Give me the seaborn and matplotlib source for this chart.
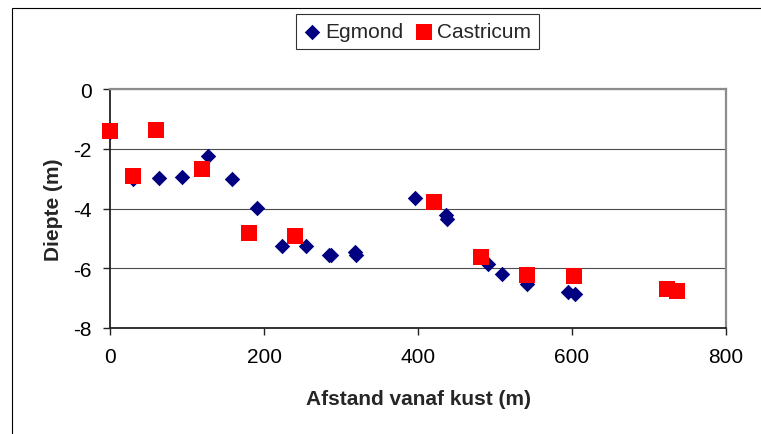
import matplotlib
matplotlib.use("Agg")
import matplotlib.pyplot as plt
from matplotlib.patches import Rectangle
import pandas as pd
import seaborn as sns

# Egmond measurements: distance from the coast (m) and depth (m)
egmond_afstand = [0, 30, 63, 94, 127, 159, 191, 223, 255, 284, 287, 318, 320,
                  396, 436, 438, 491, 509, 541, 595, 604]
egmond_diepte = [-1.45, -3.02, -2.98, -2.93, -2.23, -3.01, -3.98, -5.24, -5.24,
                 -5.55, -5.55, -5.45, -5.56, -3.65, -4.22, -4.36, -5.86, -6.2,
                 -6.53, -6.8, -6.86]

# Castricum measurements
castricum_afstand = [0, 30, 60, 120, 180, 240, 421, 482, 541, 602, 724, 737]
castricum_diepte = [-1.39, -2.9, -1.36, -2.68, -4.82, -4.91, -3.77, -5.61,
                    -6.23, -6.27, -6.69, -6.75]

x_ticks = [0, 200, 400, 600, 800]
y_ticks = [0, -2, -4, -6, -8]

egmond = pd.DataFrame({"afstand": egmond_afstand, "diepte": egmond_diepte})
castricum = pd.DataFrame({"afstand": castricum_afstand, "diepte": castricum_diepte})

sns.set_style("white")
plt.rcParams["font.family"] = ["Liberation Sans", "DejaVu Sans"]
plt.rcParams["axes.unicode_minus"] = False

fig = plt.figure(figsize=(7.61, 4.35), dpi=100)
ax = fig.add_axes([110 / 761, 1 - 329 / 435, 616 / 761, 239 / 435])

sns.scatterplot(data=egmond, x="afstand", y="diepte", marker="D", s=62,
                color="#000080", linewidth=0, label="Egmond", ax=ax,
                zorder=3, clip_on=False)
sns.scatterplot(data=castricum, x="afstand", y="diepte", marker="s", s=117,
                color="#FF0000", linewidth=0, label="Castricum", ax=ax,
                zorder=4, clip_on=False)

ax.set_xlim(0, 800)
ax.set_ylim(-8, 0)
ax.set_xticks(x_ticks)
ax.set_yticks(y_ticks)
ax.set_xticklabels([str(v) for v in x_ticks])
ax.set_yticklabels([str(v) for v in y_ticks])

ax.yaxis.grid(True, color="#4d4d4d", linewidth=0.8)
ax.xaxis.grid(False)
ax.set_axisbelow(True)

for side in ("left", "bottom"):
    ax.spines[side].set_color("#222222")
    ax.spines[side].set_linewidth(1.3)
for side in ("top", "right"):
    ax.spines[side].set_color("#8c8c8c")
    ax.spines[side].set_linewidth(1.6)

ax.tick_params(axis="both", which="major", direction="out", length=5,
               width=1, color="#222222", labelsize=15, labelcolor="black")
ax.tick_params(axis="x", pad=9, bottom=True)
ax.tick_params(axis="y", pad=8, left=True)

ax.set_xlabel("Afstand vanaf kust (m)", fontsize=15, fontweight="bold", labelpad=16)
ax.set_ylabel("Diepte (m)", fontsize=15, fontweight="bold", labelpad=7.5)

ax.get_legend().remove()
handles, labels = ax.get_legend_handles_labels()
leg = fig.legend(handles, labels, loc="center", bbox_to_anchor=(417.5 / 761, 1 - 32.5 / 435),
                 ncol=2, fontsize=15, frameon=True, fancybox=False, shadow=False,
                 handlelength=0.8, handletextpad=0.25, columnspacing=0.55,
                 borderpad=0.38, borderaxespad=0)
leg.get_frame().set_edgecolor("black")
leg.get_frame().set_linewidth(0.8)

# Outer chart border
fig.patches.append(Rectangle((11.5 / 761, -0.05), 1.1, 1 - 8.5 / 435 + 0.05,
                             transform=fig.transFigure, fill=False,
                             edgecolor="black", linewidth=0.8))

fig.savefig("out.png", dpi=100)
